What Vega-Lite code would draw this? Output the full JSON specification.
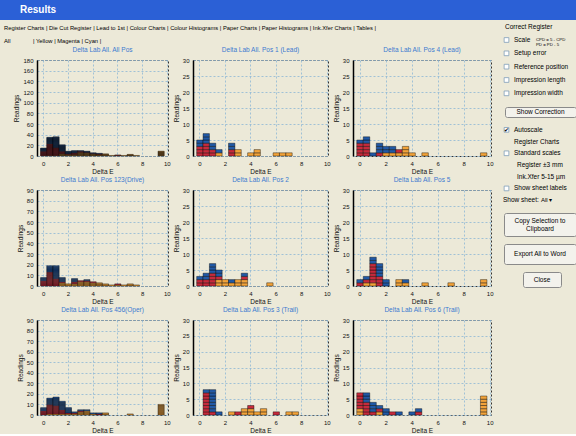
{
  "$schema": "https://vega.github.io/schema/vega-lite/v6.json",
  "padding": 0,
  "background": "#ECE9D8",
  "datasets": {
    "h": [
      {"p":"A","b":0,"k":"M","r":[1,2,3,4,5,6,7,8,9]},
      {"p":"A","b":0,"k":"C","r":[1,2,3,4,5,6]},
      {"p":"A","b":0.5,"k":"Y","r":[1]},
      {"p":"A","b":0.5,"k":"M","r":[1,2,3,4,5,6,7,8,9,10,11,12,13,14,15,16,17,18,19,20,21,22]},
      {"p":"A","b":0.5,"k":"C","r":[1,2,3,4,5,6,7,8,9,10,11,12]},
      {"p":"A","b":1,"k":"Y","r":[1]},
      {"p":"A","b":1,"k":"M","r":[1,2,3,4,5,6,7,8,9,10,11,12,13,14,15]},
      {"p":"A","b":1,"k":"C","r":[1,2,3,4,5,6,7,8,9,10,11,12,13,14,15,16,17,18,19,20]},
      {"p":"A","b":1.5,"k":"Y","r":[1,2,3,4]},
      {"p":"A","b":1.5,"k":"M","r":[1,2,3,4,5]},
      {"p":"A","b":1.5,"k":"C","r":[1,2,3,4,5,6,7,8,9,10,11,12]},
      {"p":"A","b":2,"k":"Y","r":[1,2,3]},
      {"p":"A","b":2,"k":"M","r":[1]},
      {"p":"A","b":2,"k":"C","r":[1,2,3,4,5]},
      {"p":"A","b":2.5,"k":"Y","r":[1,2,3]},
      {"p":"A","b":2.5,"k":"M","r":[1,2,3]},
      {"p":"A","b":2.5,"k":"C","r":[1,2,3,4]},
      {"p":"A","b":3,"k":"Y","r":[1,2,3,4,5,6,7]},
      {"p":"A","b":3,"k":"M","r":[1,2]},
      {"p":"A","b":3,"k":"C","r":[1]},
      {"p":"A","b":3.5,"k":"Y","r":[1,2,3,4,5,6]},
      {"p":"A","b":3.5,"k":"M","r":[1]},
      {"p":"A","b":3.5,"k":"C","r":[1,2]},
      {"p":"A","b":4,"k":"Y","r":[1,2,3,4]},
      {"p":"A","b":4,"k":"M","r":[1]},
      {"p":"A","b":4,"k":"C","r":[1]},
      {"p":"A","b":4.5,"k":"Y","r":[1,2,3]},
      {"p":"A","b":4.5,"k":"M","r":[1]},
      {"p":"A","b":4.5,"k":"C","r":[1]},
      {"p":"A","b":5,"k":"Y","r":[1,2,3,4]},
      {"p":"A","b":5.5,"k":"Y","r":[1]},
      {"p":"A","b":6,"k":"Y","r":[1]},
      {"p":"A","b":6,"k":"M","r":[1]},
      {"p":"A","b":6.5,"k":"Y","r":[1]},
      {"p":"A","b":7,"k":"Y","r":[1,2,3]},
      {"p":"A","b":7.5,"k":"Y","r":[1]},
      {"p":"A","b":9.5,"k":"Y","r":[1,2,3,4,5,6,7,8,9]},

      {"p":"P1","b":0,"k":"M","r":[1,2,3]},
      {"p":"P1","b":0,"k":"C","r":[1,2]},
      {"p":"P1","b":0.5,"k":"M","r":[1,2,3,4]},
      {"p":"P1","b":0.5,"k":"C","r":[1,2,3]},
      {"p":"P1","b":1,"k":"M","r":[1,2]},
      {"p":"P1","b":1,"k":"C","r":[1,2]},
      {"p":"P1","b":1.5,"k":"Y","r":[1]},
      {"p":"P1","b":1.5,"k":"C","r":[1]},
      {"p":"P1","b":2.5,"k":"M","r":[1,2]},
      {"p":"P1","b":2.5,"k":"C","r":[1,2]},
      {"p":"P1","b":3,"k":"Y","r":[1,2]},
      {"p":"P1","b":4,"k":"Y","r":[1]},
      {"p":"P1","b":4.5,"k":"Y","r":[1,2]},
      {"p":"P1","b":6,"k":"Y","r":[1]},
      {"p":"P1","b":6.5,"k":"Y","r":[1]},
      {"p":"P1","b":7,"k":"Y","r":[1]},

      {"p":"P4","b":0,"k":"M","r":[1,2,3,4]},
      {"p":"P4","b":0,"k":"C","r":[1]},
      {"p":"P4","b":0.5,"k":"M","r":[1,2,3,4]},
      {"p":"P4","b":0.5,"k":"C","r":[1,2]},
      {"p":"P4","b":1,"k":"C","r":[1]},
      {"p":"P4","b":1.5,"k":"M","r":[1]},
      {"p":"P4","b":1.5,"k":"C","r":[1,2,3]},
      {"p":"P4","b":2,"k":"Y","r":[1]},
      {"p":"P4","b":2,"k":"C","r":[1,2]},
      {"p":"P4","b":2.5,"k":"Y","r":[1]},
      {"p":"P4","b":2.5,"k":"C","r":[1,2]},
      {"p":"P4","b":3,"k":"Y","r":[1]},
      {"p":"P4","b":3,"k":"M","r":[1]},
      {"p":"P4","b":3.5,"k":"Y","r":[1,2,3]},
      {"p":"P4","b":4,"k":"Y","r":[1]},
      {"p":"P4","b":5,"k":"Y","r":[1]},
      {"p":"P4","b":9.5,"k":"Y","r":[1]},

      {"p":"D","b":0,"k":"M","r":[1,2,3,4,5]},
      {"p":"D","b":0,"k":"C","r":[1,2,3]},
      {"p":"D","b":0.5,"k":"M","r":[1,2,3,4,5,6,7,8,9,10,11,12,13]},
      {"p":"D","b":0.5,"k":"C","r":[1,2,3,4,5,6]},
      {"p":"D","b":1,"k":"M","r":[1,2,3,4,5,6,7]},
      {"p":"D","b":1,"k":"C","r":[1,2,3,4,5,6,7,8,9,10,11,12]},
      {"p":"D","b":1.5,"k":"Y","r":[1,2,3]},
      {"p":"D","b":1.5,"k":"M","r":[1]},
      {"p":"D","b":1.5,"k":"C","r":[1,2,3,4]},
      {"p":"D","b":2,"k":"Y","r":[1,2]},
      {"p":"D","b":2.5,"k":"Y","r":[1,2]},
      {"p":"D","b":2.5,"k":"M","r":[1,2]},
      {"p":"D","b":2.5,"k":"C","r":[1,2,3]},
      {"p":"D","b":3,"k":"Y","r":[1,2,3,4]},
      {"p":"D","b":3,"k":"M","r":[1]},
      {"p":"D","b":3.5,"k":"Y","r":[1,2,3,4]},
      {"p":"D","b":3.5,"k":"M","r":[1]},
      {"p":"D","b":3.5,"k":"C","r":[1]},
      {"p":"D","b":4,"k":"Y","r":[1,2,3]},
      {"p":"D","b":4,"k":"M","r":[1]},
      {"p":"D","b":4.5,"k":"Y","r":[1,2,3]},
      {"p":"D","b":5,"k":"Y","r":[1,2]},
      {"p":"D","b":5.5,"k":"Y","r":[1]},
      {"p":"D","b":6,"k":"Y","r":[1]},
      {"p":"D","b":6,"k":"M","r":[1]},
      {"p":"D","b":6.5,"k":"Y","r":[1]},
      {"p":"D","b":7,"k":"Y","r":[1,2]},
      {"p":"D","b":7.5,"k":"Y","r":[1]},

      {"p":"P2","b":0,"k":"M","r":[1,2]},
      {"p":"P2","b":0,"k":"C","r":[1]},
      {"p":"P2","b":0.5,"k":"M","r":[1,2]},
      {"p":"P2","b":0.5,"k":"C","r":[1,2]},
      {"p":"P2","b":1,"k":"M","r":[1,2,3,4]},
      {"p":"P2","b":1,"k":"C","r":[1,2,3]},
      {"p":"P2","b":1.5,"k":"Y","r":[1,2]},
      {"p":"P2","b":1.5,"k":"M","r":[1]},
      {"p":"P2","b":1.5,"k":"C","r":[1,2]},
      {"p":"P2","b":2,"k":"Y","r":[1,2]},
      {"p":"P2","b":2.5,"k":"Y","r":[1]},
      {"p":"P2","b":2.5,"k":"C","r":[1]},
      {"p":"P2","b":3,"k":"Y","r":[1,2]},
      {"p":"P2","b":3.5,"k":"Y","r":[1,2]},
      {"p":"P2","b":3.5,"k":"M","r":[1]},
      {"p":"P2","b":3.5,"k":"C","r":[1]},
      {"p":"P2","b":5.5,"k":"Y","r":[1]},

      {"p":"P5","b":0,"k":"M","r":[1]},
      {"p":"P5","b":0,"k":"C","r":[1]},
      {"p":"P5","b":0.5,"k":"Y","r":[1]},
      {"p":"P5","b":0.5,"k":"M","r":[1]},
      {"p":"P5","b":0.5,"k":"C","r":[1]},
      {"p":"P5","b":1,"k":"Y","r":[1]},
      {"p":"P5","b":1,"k":"M","r":[1,2,3,4,5,6]},
      {"p":"P5","b":1,"k":"C","r":[1,2]},
      {"p":"P5","b":1.5,"k":"M","r":[1,2,3]},
      {"p":"P5","b":1.5,"k":"C","r":[1,2,3,4]},
      {"p":"P5","b":2,"k":"C","r":[1,2]},
      {"p":"P5","b":3,"k":"Y","r":[1,2]},
      {"p":"P5","b":3.5,"k":"Y","r":[1]},
      {"p":"P5","b":3.5,"k":"C","r":[1]},
      {"p":"P5","b":5,"k":"Y","r":[1]},
      {"p":"P5","b":7,"k":"Y","r":[1]},
      {"p":"P5","b":9.5,"k":"Y","r":[1,2]},

      {"p":"O","b":0,"k":"M","r":[1,2,3,4]},
      {"p":"O","b":0,"k":"C","r":[1,2,3]},
      {"p":"O","b":0.5,"k":"Y","r":[1]},
      {"p":"O","b":0.5,"k":"M","r":[1,2,3,4,5,6,7,8,9]},
      {"p":"O","b":0.5,"k":"C","r":[1,2,3,4,5,6]},
      {"p":"O","b":1,"k":"Y","r":[1]},
      {"p":"O","b":1,"k":"M","r":[1,2,3,4,5,6,7,8]},
      {"p":"O","b":1,"k":"C","r":[1,2,3,4,5,6,7,8]},
      {"p":"O","b":1.5,"k":"Y","r":[1]},
      {"p":"O","b":1.5,"k":"M","r":[1,2,3,4]},
      {"p":"O","b":1.5,"k":"C","r":[1,2,3,4,5,6,7,8]},
      {"p":"O","b":2,"k":"Y","r":[1]},
      {"p":"O","b":2,"k":"M","r":[1]},
      {"p":"O","b":2,"k":"C","r":[1,2,3,4,5]},
      {"p":"O","b":2.5,"k":"Y","r":[1]},
      {"p":"O","b":2.5,"k":"M","r":[1]},
      {"p":"O","b":2.5,"k":"C","r":[1]},
      {"p":"O","b":3,"k":"Y","r":[1,2,3]},
      {"p":"O","b":3,"k":"M","r":[1]},
      {"p":"O","b":3,"k":"C","r":[1]},
      {"p":"O","b":3.5,"k":"Y","r":[1,2,3,4]},
      {"p":"O","b":3.5,"k":"C","r":[1]},
      {"p":"O","b":4,"k":"Y","r":[1]},
      {"p":"O","b":4,"k":"C","r":[1]},
      {"p":"O","b":4.5,"k":"M","r":[1]},
      {"p":"O","b":4.5,"k":"C","r":[1]},
      {"p":"O","b":5,"k":"Y","r":[1,2]},
      {"p":"O","b":7,"k":"Y","r":[1]},
      {"p":"O","b":9.5,"k":"Y","r":[1,2,3,4,5,6,7,8,9,10]},

      {"p":"P3","b":0.5,"k":"M","r":[1,2,3,4,5,6,7]},
      {"p":"P3","b":0.5,"k":"C","r":[1]},
      {"p":"P3","b":1,"k":"M","r":[1]},
      {"p":"P3","b":1,"k":"C","r":[1,2,3,4,5,6,7]},
      {"p":"P3","b":1.5,"k":"C","r":[1]},
      {"p":"P3","b":2.5,"k":"Y","r":[1]},
      {"p":"P3","b":3,"k":"M","r":[1]},
      {"p":"P3","b":3.5,"k":"Y","r":[1,2]},
      {"p":"P3","b":4,"k":"Y","r":[1,2]},
      {"p":"P3","b":4,"k":"M","r":[1]},
      {"p":"P3","b":4.5,"k":"Y","r":[1]},
      {"p":"P3","b":5,"k":"Y","r":[1,2]},
      {"p":"P3","b":6,"k":"M","r":[1]},
      {"p":"P3","b":7,"k":"Y","r":[1]},
      {"p":"P3","b":7.5,"k":"Y","r":[1]},

      {"p":"P6","b":0,"k":"Y","r":[1,2]},
      {"p":"P6","b":0,"k":"M","r":[1,2,3,4,5]},
      {"p":"P6","b":0.5,"k":"M","r":[1,2,3,4]},
      {"p":"P6","b":0.5,"k":"C","r":[1,2,3]},
      {"p":"P6","b":1,"k":"M","r":[1]},
      {"p":"P6","b":1,"k":"C","r":[1,2,3]},
      {"p":"P6","b":1.5,"k":"Y","r":[1]},
      {"p":"P6","b":1.5,"k":"M","r":[1]},
      {"p":"P6","b":1.5,"k":"C","r":[1]},
      {"p":"P6","b":2,"k":"C","r":[1,2]},
      {"p":"P6","b":2.5,"k":"M","r":[1]},
      {"p":"P6","b":3,"k":"C","r":[1]},
      {"p":"P6","b":4,"k":"C","r":[1]},
      {"p":"P6","b":4.5,"k":"M","r":[1]},
      {"p":"P6","b":4.5,"k":"C","r":[1]},
      {"p":"P6","b":9.5,"k":"Y","r":[1,2,3,4,5,6]}
    ]
  },
  "vconcat": [
    {
      "width": 576,
      "height": 20,
      "view": {"fill": "#2B60D6", "stroke": null},
      "data": {"values": [{"t": "Results"}]},
      "mark": {"type": "text", "align": "left", "baseline": "middle", "color": "white", "fontSize": 10, "fontWeight": "bold", "dx": 20},
      "encoding": {
        "text": {"field": "t"},
        "x": {"datum": 0, "type": "quantitative", "scale": {"domain": [0, 1]}, "axis": null},
        "y": {"datum": 0.5, "type": "quantitative", "scale": {"domain": [0, 1]}, "axis": null}
      }
    },
    {
      "hconcat": [
        {
          "vconcat": [
            {
              "width": 491,
              "height": 40,
              "view": {"stroke": null},
              "data": {"values": []},
              "mark": "point",
              "encoding": {}
            },
            {
              "title": {
                "text": "Register Charts | Die Cut Register | Lead to 1st | Colour Charts | Colour Histograms | Paper Charts | Paper Histograms | Ink.Xfer Charts | Tables |",
                "subtitle": "All\u00a0\u00a0\u00a0\u00a0\u00a0\u00a0\u00a0\u00a0\u00a0\u00a0\u00a0\u00a0\u00a0\u00a0| Yellow | Magenta | Cyan |",
                "anchor": "start",
                "frame": "group",
                "fontSize": 5.8,
                "subtitleFontSize": 5.8,
                "color": "#000",
                "subtitleColor": "#000",
                "fontWeight": "normal",
                "offset": 2,
                "subtitlePadding": 7,
                "dx": 4
              },
              "hconcat": [
                {
                  "width": 37,
                  "height": 10,
                  "view": {"stroke": null},
                  "data": {"values": []},
                  "mark": "point",
                  "encoding": {}
                },
                {
                  "columns": 3,
                  "spacing": {"row": 34, "column": 25},
                  "bounds": "flush",
                  "data": {"name": "h"},
                  "concat": [
                    {"width":131,"height":96,"title":"Delta Lab All. All Pos","transform":[{"filter":"datum.p=='A'"},{"flatten":["r"]}],"mark":{"type":"bar","stroke":"#000","strokeWidth":0.4,"binSpacing":0},"encoding":{"x":{"field":"b","type":"quantitative","bin":{"step":0.5,"extent":[-0.25,10.25],"nice":false},"scale":{"domain":[-0.5,10.1]},"axis":{"values":[0,2,4,6,8,10],"format":"d","title":"Delta E"}},"y":{"aggregate":"count","type":"quantitative","scale":{"domain":[0,180],"nice":false},"axis":{"values":[0,20,40,60,80,100,120,140,160,180],"title":"Readings"}},"color":{"field":"k","type":"nominal","scale":{"domain":["Y","M","C"],"range":["#F2A33A","#C62A3C","#2159A6"]},"legend":null},"order":{"field":"k","sort":"descending"},"detail":{"field":"r","type":"nominal"}}},
                    {"width":135,"height":96,"title":"Delta Lab All. Pos 1 (Lead)","transform":[{"filter":"datum.p=='P1'"},{"flatten":["r"]}],"mark":{"type":"bar","stroke":"#000","strokeWidth":0.4,"binSpacing":0},"encoding":{"x":{"field":"b","type":"quantitative","bin":{"step":0.5,"extent":[-0.25,10.25],"nice":false},"scale":{"domain":[-0.5,10.1]},"axis":{"values":[0,2,4,6,8,10],"format":"d","title":"Delta E"}},"y":{"aggregate":"count","type":"quantitative","scale":{"domain":[0,30],"nice":false},"axis":{"values":[0,5,10,15,20,25,30],"title":"Readings"}},"color":{"field":"k","type":"nominal","scale":{"domain":["Y","M","C"],"range":["#F2A33A","#C62A3C","#2159A6"]},"legend":null},"order":{"field":"k","sort":"descending"},"detail":{"field":"r","type":"nominal"}}},
                    {"width":138,"height":96,"title":"Delta Lab All. Pos 4 (Lead)","transform":[{"filter":"datum.p=='P4'"},{"flatten":["r"]}],"mark":{"type":"bar","stroke":"#000","strokeWidth":0.4,"binSpacing":0},"encoding":{"x":{"field":"b","type":"quantitative","bin":{"step":0.5,"extent":[-0.25,10.25],"nice":false},"scale":{"domain":[-0.5,10.1]},"axis":{"values":[0,2,4,6,8,10],"format":"d","title":"Delta E"}},"y":{"aggregate":"count","type":"quantitative","scale":{"domain":[0,30],"nice":false},"axis":{"values":[0,5,10,15,20,25,30],"title":"Readings"}},"color":{"field":"k","type":"nominal","scale":{"domain":["Y","M","C"],"range":["#F2A33A","#C62A3C","#2159A6"]},"legend":null},"order":{"field":"k","sort":"descending"},"detail":{"field":"r","type":"nominal"}}},
                    {"width":131,"height":96,"title":"Delta Lab All. Pos 123(Drive)","transform":[{"filter":"datum.p=='D'"},{"flatten":["r"]}],"mark":{"type":"bar","stroke":"#000","strokeWidth":0.4,"binSpacing":0},"encoding":{"x":{"field":"b","type":"quantitative","bin":{"step":0.5,"extent":[-0.25,10.25],"nice":false},"scale":{"domain":[-0.5,10.1]},"axis":{"values":[0,2,4,6,8,10],"format":"d","title":"Delta E"}},"y":{"aggregate":"count","type":"quantitative","scale":{"domain":[0,90],"nice":false},"axis":{"values":[0,10,20,30,40,50,60,70,80,90],"title":"Readings"}},"color":{"field":"k","type":"nominal","scale":{"domain":["Y","M","C"],"range":["#F2A33A","#C62A3C","#2159A6"]},"legend":null},"order":{"field":"k","sort":"descending"},"detail":{"field":"r","type":"nominal"}}},
                    {"width":135,"height":96,"title":"Delta Lab All. Pos 2","transform":[{"filter":"datum.p=='P2'"},{"flatten":["r"]}],"mark":{"type":"bar","stroke":"#000","strokeWidth":0.4,"binSpacing":0},"encoding":{"x":{"field":"b","type":"quantitative","bin":{"step":0.5,"extent":[-0.25,10.25],"nice":false},"scale":{"domain":[-0.5,10.1]},"axis":{"values":[0,2,4,6,8,10],"format":"d","title":"Delta E"}},"y":{"aggregate":"count","type":"quantitative","scale":{"domain":[0,30],"nice":false},"axis":{"values":[0,5,10,15,20,25,30],"title":"Readings"}},"color":{"field":"k","type":"nominal","scale":{"domain":["Y","M","C"],"range":["#F2A33A","#C62A3C","#2159A6"]},"legend":null},"order":{"field":"k","sort":"descending"},"detail":{"field":"r","type":"nominal"}}},
                    {"width":138,"height":96,"title":"Delta Lab All. Pos 5","transform":[{"filter":"datum.p=='P5'"},{"flatten":["r"]}],"mark":{"type":"bar","stroke":"#000","strokeWidth":0.4,"binSpacing":0},"encoding":{"x":{"field":"b","type":"quantitative","bin":{"step":0.5,"extent":[-0.25,10.25],"nice":false},"scale":{"domain":[-0.5,10.1]},"axis":{"values":[0,2,4,6,8,10],"format":"d","title":"Delta E"}},"y":{"aggregate":"count","type":"quantitative","scale":{"domain":[0,30],"nice":false},"axis":{"values":[0,5,10,15,20,25,30],"title":"Readings"}},"color":{"field":"k","type":"nominal","scale":{"domain":["Y","M","C"],"range":["#F2A33A","#C62A3C","#2159A6"]},"legend":null},"order":{"field":"k","sort":"descending"},"detail":{"field":"r","type":"nominal"}}},
                    {"width":131,"height":95,"title":"Delta Lab All. Pos 456(Oper)","transform":[{"filter":"datum.p=='O'"},{"flatten":["r"]}],"mark":{"type":"bar","stroke":"#000","strokeWidth":0.4,"binSpacing":0},"encoding":{"x":{"field":"b","type":"quantitative","bin":{"step":0.5,"extent":[-0.25,10.25],"nice":false},"scale":{"domain":[-0.5,10.1]},"axis":{"values":[0,2,4,6,8,10],"format":"d","title":"Delta E"}},"y":{"aggregate":"count","type":"quantitative","scale":{"domain":[0,90],"nice":false},"axis":{"values":[0,10,20,30,40,50,60,70,80,90],"title":"Readings"}},"color":{"field":"k","type":"nominal","scale":{"domain":["Y","M","C"],"range":["#F2A33A","#C62A3C","#2159A6"]},"legend":null},"order":{"field":"k","sort":"descending"},"detail":{"field":"r","type":"nominal"}}},
                    {"width":135,"height":95,"title":"Delta Lab All. Pos 3 (Trail)","transform":[{"filter":"datum.p=='P3'"},{"flatten":["r"]}],"mark":{"type":"bar","stroke":"#000","strokeWidth":0.4,"binSpacing":0},"encoding":{"x":{"field":"b","type":"quantitative","bin":{"step":0.5,"extent":[-0.25,10.25],"nice":false},"scale":{"domain":[-0.5,10.1]},"axis":{"values":[0,2,4,6,8,10],"format":"d","title":"Delta E"}},"y":{"aggregate":"count","type":"quantitative","scale":{"domain":[0,30],"nice":false},"axis":{"values":[0,5,10,15,20,25,30],"title":"Readings"}},"color":{"field":"k","type":"nominal","scale":{"domain":["Y","M","C"],"range":["#F2A33A","#C62A3C","#2159A6"]},"legend":null},"order":{"field":"k","sort":"descending"},"detail":{"field":"r","type":"nominal"}}},
                    {"width":138,"height":95,"title":"Delta Lab All. Pos 6 (Trail)","transform":[{"filter":"datum.p=='P6'"},{"flatten":["r"]}],"mark":{"type":"bar","stroke":"#000","strokeWidth":0.4,"binSpacing":0},"encoding":{"x":{"field":"b","type":"quantitative","bin":{"step":0.5,"extent":[-0.25,10.25],"nice":false},"scale":{"domain":[-0.5,10.1]},"axis":{"values":[0,2,4,6,8,10],"format":"d","title":"Delta E"}},"y":{"aggregate":"count","type":"quantitative","scale":{"domain":[0,30],"nice":false},"axis":{"values":[0,5,10,15,20,25,30],"title":"Readings"}},"color":{"field":"k","type":"nominal","scale":{"domain":["Y","M","C"],"range":["#F2A33A","#C62A3C","#2159A6"]},"legend":null},"order":{"field":"k","sort":"descending"},"detail":{"field":"r","type":"nominal"}}}
                  ]
                }
              ],
              "spacing": 0,
              "bounds": "flush"
            }
          ],
          "spacing": 0,
          "bounds": "flush"
        },
        {
          "vconcat": [
            {
              "width": 81,
              "height": 80,
              "view": {"stroke": null},
              "data": {"values": [
                {"t": "Correct Register", "k": "head"},
                {"t": "Scale", "k": "box", "n": ["CPD = 5 - CPD", "PD = PD - 5"]},
                {"t": "Setup error", "k": "box"},
                {"t": "Reference position", "k": "box"},
                {"t": "Impression length", "k": "box"},
                {"t": "Impression width", "k": "box"}
              ]},
              "encoding": {
                "y": {"field": "t", "type": "nominal", "axis": null, "scale": {"type": "band", "domain": ["Correct Register", "Scale", "Setup error", "Reference position", "Impression length", "Impression width"], "paddingInner": 0, "paddingOuter": 0}},
                "x": {"datum": 0, "type": "quantitative", "scale": {"domain": [0, 1]}, "axis": null}
              },
              "layer": [
                {"transform": [{"filter": "datum.k == 'head'"}], "mark": {"type": "text", "align": "left", "dx": 9, "fontSize": 6.5, "color": "#000"}, "encoding": {"text": {"field": "t"}}},
                {"transform": [{"filter": "datum.k != 'head'"}], "mark": {"type": "text", "align": "left", "dx": 18, "fontSize": 6.5, "color": "#000"}, "encoding": {"text": {"field": "t"}}},
                {"transform": [{"filter": "datum.k != 'head'"}], "mark": {"type": "square", "size": 22, "filled": true, "fill": "#FFFFFF", "stroke": "#7F9DB9", "strokeWidth": 0.8, "opacity": 1, "xOffset": 10.5}, "encoding": {}},
                {"transform": [{"filter": "isValid(datum.n)"}], "mark": {"type": "text", "align": "left", "dx": 40, "fontSize": 4.3, "lineHeight": 5, "color": "#000"}, "encoding": {"text": {"field": "n"}}}
              ]
            },
            {
              "hconcat": [
                {"width": 9, "height": 1, "view": {"stroke": null}, "data": {"values": []}, "mark": "point", "encoding": {}},
                {"width": 71, "height": 10, "view": {"fill": "#F3F2EC", "stroke": "#8A8A8A", "strokeDash": [], "strokeWidth": 1, "cornerRadius": 2}, "data": {"values": [{"t": "Show Correction"}]}, "mark": {"type": "text", "fontSize": 6.5, "color": "#000"}, "encoding": {"text": {"field": "t"}}}
              ],
              "spacing": 0,
              "bounds": "flush"
            },
            {
              "width": 81,
              "height": 82,
              "view": {"stroke": null},
              "data": {"values": [
                {"t": "Autoscale", "k": "checked"},
                {"t": "Register Charts", "k": "sub"},
                {"t": "Standard scales", "k": "box"},
                {"t": "Register ±3 mm", "k": "sub2"},
                {"t": "Ink.Xfer 5-15 µm", "k": "sub2"},
                {"t": "Show sheet labels", "k": "box"},
                {"t": "Show sheet:", "k": "head", "n": "All  ▾"}
              ]},
              "encoding": {
                "y": {"field": "t", "type": "nominal", "axis": null, "scale": {"type": "band", "domain": ["Autoscale", "Register Charts", "Standard scales", "Register ±3 mm", "Ink.Xfer 5-15 µm", "Show sheet labels", "Show sheet:"], "paddingInner": 0, "paddingOuter": 0}},
                "x": {"datum": 0, "type": "quantitative", "scale": {"domain": [0, 1]}, "axis": null}
              },
              "layer": [
                {"transform": [{"filter": "datum.k == 'head'"}], "mark": {"type": "text", "align": "left", "dx": 7, "fontSize": 6.5, "color": "#000"}, "encoding": {"text": {"field": "t"}}},
                {"transform": [{"filter": "datum.k == 'box' || datum.k == 'checked' || datum.k == 'sub'"}], "mark": {"type": "text", "align": "left", "dx": 18, "fontSize": 6.5, "color": "#000"}, "encoding": {"text": {"field": "t"}}},
                {"transform": [{"filter": "datum.k == 'sub2'"}], "mark": {"type": "text", "align": "left", "dx": 21, "fontSize": 6.5, "color": "#000"}, "encoding": {"text": {"field": "t"}}},
                {"transform": [{"filter": "datum.k == 'box' || datum.k == 'checked'"}], "mark": {"type": "square", "size": 22, "filled": true, "fill": "#FFFFFF", "stroke": "#7F9DB9", "strokeWidth": 0.8, "opacity": 1, "xOffset": 10.5}, "encoding": {}},
                {"transform": [{"filter": "datum.k == 'checked'"}], "mark": {"type": "text", "align": "center", "dx": 10.5, "fontSize": 6, "font": "DejaVu Sans", "color": "#000", "text": "✔"}, "encoding": {}},
                {"transform": [{"filter": "isValid(datum.n)"}], "mark": {"type": "text", "align": "left", "dx": 45, "fontSize": 6, "color": "#000"}, "encoding": {"text": {"field": "n"}}}
              ]
            },
            {
              "hconcat": [
                {"width": 8, "height": 1, "view": {"stroke": null}, "data": {"values": []}, "mark": "point", "encoding": {}},
                {"width": 72, "height": 23, "view": {"fill": "#F3F2EC", "stroke": "#8A8A8A", "strokeDash": [], "strokeWidth": 1, "cornerRadius": 2}, "data": {"values": [{"t": ["Copy Selection to", "Clipboard"]}]}, "mark": {"type": "text", "fontSize": 6.5, "lineHeight": 8, "dy": -4, "color": "#000"}, "encoding": {"text": {"field": "t"}}}
              ],
              "spacing": 0,
              "bounds": "flush"
            },
            {
              "hconcat": [
                {"width": 8, "height": 1, "view": {"stroke": null}, "data": {"values": []}, "mark": "point", "encoding": {}},
                {"width": 72, "height": 20, "view": {"fill": "#F3F2EC", "stroke": "#8A8A8A", "strokeDash": [], "strokeWidth": 1, "cornerRadius": 2}, "data": {"values": [{"t": "Export All to Word"}]}, "mark": {"type": "text", "fontSize": 6.5, "color": "#000"}, "encoding": {"text": {"field": "t"}}}
              ],
              "spacing": 0,
              "bounds": "flush"
            },
            {
              "hconcat": [
                {"width": 27, "height": 1, "view": {"stroke": null}, "data": {"values": []}, "mark": "point", "encoding": {}},
                {"width": 38, "height": 15, "view": {"fill": "#F3F2EC", "stroke": "#8A8A8A", "strokeDash": [], "strokeWidth": 1, "cornerRadius": 2}, "data": {"values": [{"t": "Close"}]}, "mark": {"type": "text", "fontSize": 6.5, "color": "#000"}, "encoding": {"text": {"field": "t"}}}
              ],
              "spacing": 0,
              "bounds": "flush"
            }
          ],
          "spacing": 6,
          "bounds": "full"
        }
      ],
      "spacing": 2,
      "bounds": "full"
    }
  ],
  "spacing": 0,
  "bounds": "flush",
  "config": {
    "font": "Liberation Sans",
    "view": {"stroke": "#333333", "strokeDash": [2, 2], "strokeWidth": 1},
    "axis": {"labelFontSize": 6, "titleFontSize": 6.5, "titleFontWeight": "normal", "labelColor": "#111", "titleColor": "#111", "gridColor": "#8DB6D6", "gridDash": [2, 2], "gridWidth": 0.8, "domain": false, "ticks": false, "labelPadding": 4},
    "axisX": {"grid": true, "titlePadding": 2},
    "axisY": {"grid": true, "domain": true, "domainColor": "#000", "domainWidth": 1.5, "titlePadding": 3},
    "title": {"fontSize": 6.5, "fontWeight": "normal", "color": "#3C7AD0", "offset": 0, "font": "Liberation Sans"}
  }
}
